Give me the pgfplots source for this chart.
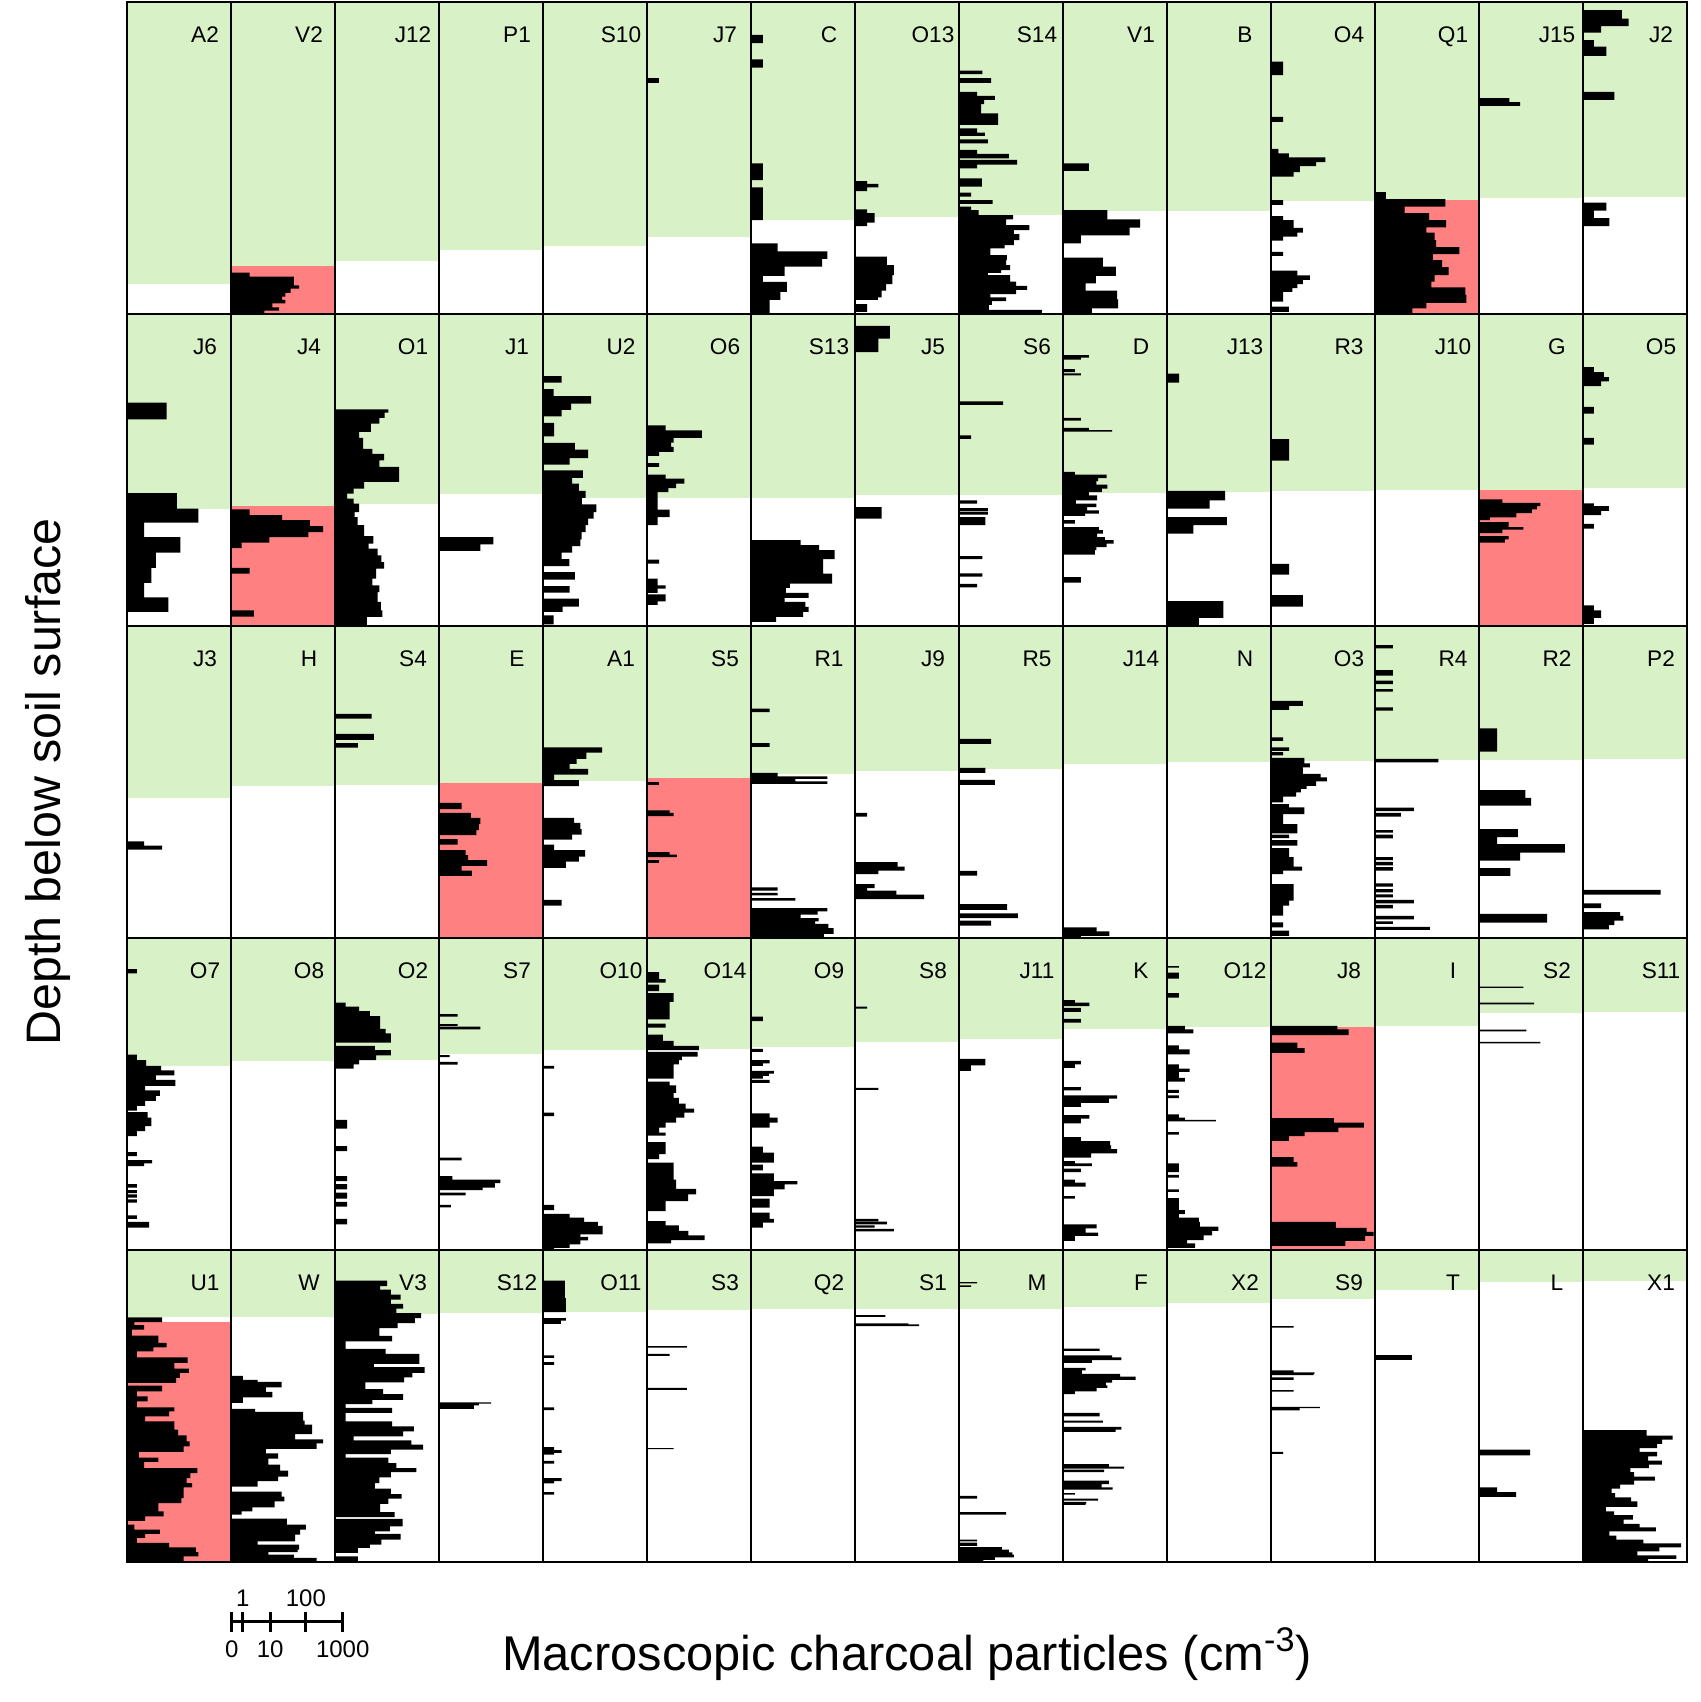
\documentclass[border=0pt]{standalone}
\usepackage{fontspec}
\setmainfont{Liberation Sans}
\usepackage{pgfplots}
\pgfplotsset{compat=1.18}
\definecolor{cgreen}{RGB}{217,241,198}
\definecolor{cred}{RGB}{255,128,128}
\pgfplotsset{panel/.style={anchor=north west, width=52pt, height=156pt, scale only axis,
  xmin=0, xmax=2.81, ymin=0, ymax=100, y dir=reverse, ticks=none, axis on top,
  axis line style={line width=0.75pt}, clip=true}}
\newcommand{\panel}[6]{%
 \begin{axis}[panel, at={(63.5pt+#1*52pt,-1pt-#2*156pt)}, name=pan]
  \addplot[xbar interval, fill=cgreen, draw=none] coordinates {(2.81,0) (0,#4)};
  \ifdim #5pt<99.9pt
  \addplot[xbar interval, fill=cred, draw=none] coordinates {(2.81,#5) (0,100)};
  \fi
  \addplot[xbar interval, fill=black, draw=none] coordinates {#6};
 \end{axis}
 \node[font=\fontsize{11.3}{13}\selectfont, anchor=base] at ([xshift=-13pt,yshift=-20.2pt]pan.north east) {#3};
}
\begin{document}
\begin{tikzpicture}
\path[use as bounding box] (0,0) rectangle (850.5pt,-851pt);
% Row 0
\panel{0}{0}{A2}{90.4}{100}{(0,0) (0,1)}
\panel{1}{0}{V2}{84.6}{84.6}{(0.50,86.7) (1.70,88.0) (1.84,90.8) (1.61,91.9) (1.47,93.2) (1.38,94.4) (1.47,95.5) (1.12,96.6) (1.30,97.9) (0.90,98.9) (0,99.8)}
\panel{2}{0}{J12}{83.0}{100}{(0,0) (0,1)}
\panel{3}{0}{P1}{79.5}{100}{(0,0) (0,1)}
\panel{4}{0}{S10}{78.2}{100}{(0,0) (0,1)}
\panel{5}{0}{J7}{75.3}{100}{(0.33,24.4) (0,25.9)}
\panel{6}{0}{C}{69.9}{100}{(0.32,10.5) (0,13.2) (0.32,18.4) (0,21.0) (0.32,51.7) (0,57.1) (0.32,59.4) (0,69.9) (0.72,77.4) (2.06,79.9) (1.92,82.3) (0.91,84.8) (0.32,87.8) (0.97,89.7) (0.79,92.9) (0.50,95.5) (0,99.8)}
\panel{7}{0}{O13}{68.9}{100}{(0.33,57.4) (0.63,58.3) (0.33,59.4) (0,60.6) (0.33,66.5) (0.53,67.7) (0.33,70.7) (0,71.8) (0.86,81.6) (1.05,84.3) (1.01,87.5) (0.84,90.4) (0.72,92.5) (0.62,94.7) (0,95.5) (0.33,96.8) (0,99.3)}
\panel{8}{0}{S14}{68.3}{100}{(0.63,22.0) (0,23.1) (0.87,24.4) (0,25.9) (0.49,28.8) (0.97,30.1) (0.68,31.4) (0.60,32.7) (1.06,35.7) (0,39.4) (0.49,40.5) (0.70,41.9) (0,42.9) (0.78,44.0) (0,45.3) (0.49,47.4) (1.35,48.7) (0,50.1) (1.57,50.6) (0.49,52.1) (0,53.3) (0.62,56.5) (0,59.2) (0.33,61.1) (0,62.4) (0.91,63.5) (0,64.7) (0.33,65.6) (0.53,66.7) (1.46,68.3) (1.27,69.7) (1.90,71.5) (1.48,73.1) (1.63,74.4) (1.48,76.3) (1.23,77.9) (0.85,79.0) (1.29,81.1) (1.27,82.7) (1.38,84.3) (1.14,85.9) (0.78,86.8) (1.38,87.5) (1.54,89.6) (1.84,91.0) (1.54,92.3) (0.85,93.6) (1.27,94.7) (0.89,95.9) (0.81,97.1) (2.24,98.7) (0,99.8)}
\panel{9}{0}{V1}{66.9}{100}{(0.70,51.7) (0,54.1) (1.20,66.7) (2.08,69.7) (1.80,72.3) (0.48,74.8) (0,77.4) (1.08,81.9) (1.43,84.8) (0.89,87.8) (0.61,90.2) (1.46,92.5) (1.49,95.3) (0.78,98.2) (0,99.8)}
\panel{10}{0}{B}{66.9}{100}{(0,0) (0,1)}
\panel{11}{0}{O4}{63.8}{100}{(0.33,19.1) (0,23.4) (0.33,36.8) (0,38.4) (0.20,47.1) (0.48,48.5) (1.47,49.8) (1.22,51.3) (0.78,52.6) (0.61,54.5) (0,56.0) (0.33,63.5) (0,65.0) (0.33,68.6) (0.61,69.9) (0.86,72.4) (0.71,73.9) (0.33,75.2) (0,76.5) (0.33,80.1) (0,81.4) (0.71,86.1) (1.05,87.6) (0.86,89.1) (0.71,90.4) (0.58,91.7) (0.33,92.9) (0,96.0) (0.48,97.6) (0,99.3)}
\panel{12}{0}{Q1}{63.5}{63.5}{(0.29,60.9) (1.90,63.2) (0.80,65.6) (1.46,67.7) (1.92,69.9) (1.39,72.2) (1.61,73.9) (1.65,76.3) (2.28,78.6) (1.56,80.8) (1.81,82.7) (1.99,85.0) (1.61,87.5) (1.52,89.6) (2.44,91.5) (2.47,93.9) (1.39,96.4) (1.01,98.2) (0,99.8)}
\panel{13}{0}{J15}{62.8}{100}{(0.82,30.8) (1.11,32.1) (0,33.3)}
\panel{14}{0}{J2}{62.5}{100}{(1.05,2.6) (1.23,5.3) (0.49,7.7) (0,9.8) (0.29,12.2) (0.63,14.3) (0,17.3) (0.85,28.8) (0,31.4) (0.63,64.3) (0.29,66.9) (0.71,69.3) (0,71.8)}
% Row 1
\panel{0}{1}{J6}{62.4}{100}{(1.07,28.4) (0,33.8) (1.35,57.4) (1.93,62.4) (0.46,66.9) (1.44,71.5) (0.78,76.5) (0.66,81.4) (0.46,86.2) (1.12,90.8) (0,95.5)}
\panel{1}{1}{J4}{61.5}{61.5}{(0.50,62.6) (1.38,64.5) (2.13,66.1) (2.49,68.0) (2.09,69.9) (1.04,71.5) (0.29,73.3) (0,75.0) (0.50,81.4) (0,83.2) (0.62,95.0) (0,97.0)}
\panel{2}{1}{O1}{60.8}{100}{(1.44,30.6) (1.34,31.6) (1.20,33.3) (0.97,35.1) (0.65,37.8) (0.76,39.7) (1.01,43.2) (1.33,44.8) (1.20,46.9) (1.73,49.0) (0.79,53.8) (0.50,56.0) (0.33,57.6) (0.50,59.2) (0.65,60.8) (0.53,63.5) (0.61,65.1) (0.79,67.7) (1.04,71.2) (0.91,73.6) (1.15,75.2) (1.25,77.4) (1.33,79.5) (1.11,81.6) (1.01,84.8) (1.20,87.0) (1.15,89.1) (1.24,92.3) (1.28,95.0) (0.86,97.1) (0,99.8)}
\panel{3}{1}{J1}{57.7}{100}{(1.47,71.5) (1.12,73.8) (0,75.9)}
\panel{4}{1}{U2}{59.1}{100}{(0.50,19.9) (0,22.0) (0.29,24.1) (1.30,26.3) (0.76,28.7) (0.50,30.7) (0,32.8) (0.30,34.9) (0,39.2) (0.86,41.3) (1.22,43.5) (0.72,46.2) (0,48.3) (1.08,50.1) (0.79,52.5) (0.97,54.4) (1.15,56.7) (1.05,58.9) (1.44,61.0) (1.37,63.5) (1.22,65.6) (1.15,67.7) (1.04,69.9) (1.01,72.2) (0.79,74.4) (0.50,76.5) (0.71,78.6) (0,80.8) (0.86,82.7) (0,85.1) (0.72,87.2) (0,89.3) (0.97,91.2) (0.53,93.8) (0,95.5) (0.29,96.6) (0,99.5)}
\panel{5}{1}{O6}{58.9}{100}{(0.50,35.7) (1.48,37.3) (0.72,39.7) (0.65,41.2) (0.72,42.6) (0.33,44.2) (0,45.5) (0.33,47.8) (0,49.0) (0.50,51.5) (1.01,52.8) (0.79,54.4) (0.58,55.8) (0.29,57.1) (0.61,62.7) (0.29,65.1) (0,67.7) (0.33,78.7) (0,80.0) (0.29,84.8) (0.50,87.0) (0.29,88.0) (0,89.4) (0.50,89.9) (0.29,92.1) (0,93.2)}
\panel{6}{1}{S13}{58.9}{100}{(1.34,72.5) (1.84,74.1) (2.26,75.7) (1.95,78.6) (2.19,83.2) (1.05,86.4) (0.94,87.8) (1.56,89.4) (0.91,91.0) (1.47,92.3) (1.56,93.9) (1.41,95.5) (0.68,97.1) (0,98.7)}
\panel{7}{1}{J5}{58.0}{100}{(0.94,3.8) (0.63,7.9) (0,12.2) (0.72,61.9) (0,65.6)}
\panel{8}{1}{S6}{58.0}{100}{(1.19,28.0) (0,29.1) (0.33,38.9) (0,40.0) (0.49,59.7) (0,60.8) (0.78,62.2) (0,63.1) (0.78,63.3) (0,64.3) (0.71,65.1) (0,67.7) (0.63,77.6) (0,78.6) (0.63,83.1) (0,84.2) (0.49,86.5) (0,87.6)}
\panel{9}{1}{D}{57.4}{100}{(0.70,13.2) (0.48,14.0) (0,14.6) (0.32,17.7) (0,18.6) (0.48,19.0) (0,19.7) (0.48,33.3) (0,34.2) (0.70,36.5) (1.33,37.2) (0,37.7) (0.32,50.6) (1.18,51.5) (0.95,52.6) (0.90,53.6) (1.20,54.7) (1.05,56.0) (0.70,57.1) (0.92,58.1) (0.35,59.7) (0.90,60.8) (0.65,61.9) (0.97,62.9) (0.60,64.0) (0,64.7) (0.32,66.1) (0,67.2) (0.97,68.3) (1.08,69.3) (0.92,70.4) (1.13,71.5) (1.37,72.5) (1.18,73.6) (0.90,74.7) (0.86,75.7) (0,77.1) (0.48,84.3) (0,86.1)}
\panel{10}{1}{J13}{57.1}{100}{(0.33,19.1) (0,22.0) (1.57,56.7) (1.15,59.7) (0,62.4) (1.62,65.1) (0.71,67.7) (0,70.4) (1.52,92.0) (0.86,97.4) (0,100)}
\panel{11}{1}{R3}{56.8}{100}{(0.49,40.1) (0,47.0) (0.49,80.1) (0,83.5) (0.86,90.1) (0,93.8)}
\panel{12}{1}{J10}{56.5}{100}{(0,0) (0,1)}
\panel{13}{1}{G}{56.5}{56.5}{(0.63,59.4) (1.66,60.5) (1.56,61.6) (1.43,62.6) (1.01,63.8) (0.29,65.2) (0,66.1) (0.80,66.7) (1.20,68.3) (0.63,69.1) (0,70.2) (0.80,71.2) (0.70,72.2) (0,73.3)}
\panel{14}{1}{O5}{55.7}{100}{(0.29,17.0) (0.56,18.6) (0.70,20.2) (0.49,21.6) (0,23.1) (0.29,29.8) (0,31.9) (0.29,39.7) (0,41.9) (0.29,60.7) (0.70,61.6) (0.49,63.1) (0,64.5) (0.29,67.3) (0,68.8) (0.29,93.4) (0.49,95.0) (0.29,97.4) (0,99.3)}
% Row 2
\panel{0}{2}{J3}{55.1}{100}{(0.46,69.0) (0.95,70.4) (0,71.7)}
\panel{1}{2}{H}{51.3}{100}{(0,0) (0,1)}
\panel{2}{2}{S4}{51.0}{100}{(0.99,28.2) (0,29.7) (1.05,34.6) (0,36.5) (0.62,37.5) (0,39.0)}
\panel{3}{2}{E}{50.3}{50.3}{(0.61,56.7) (0,58.7) (0.86,59.9) (1.12,61.5) (1.08,63.5) (1.01,65.4) (0,67.0) (0.50,68.3) (0,70.1) (0.72,71.8) (0.79,73.4) (1.30,75.0) (0.61,76.9) (0.89,78.4) (0,80.1)}
\panel{4}{2}{A1}{49.8}{100}{(1.60,38.9) (1.17,40.6) (0.91,42.6) (0.72,44.2) (1.22,45.8) (0.30,47.6) (0.97,49.4) (0,51.3) (0.84,61.5) (1.01,63.1) (1.04,65.1) (0.79,66.9) (0,68.5) (0.30,70.1) (1.14,71.8) (0.97,73.9) (0.62,75.5) (0,77.5) (0.50,87.8) (0,89.6)}
\panel{5}{2}{S5}{48.7}{48.7}{(0.32,50.0) (0,50.9) (0.61,59.1) (0.72,59.9) (0,60.9) (0.61,72.5) (0.81,73.3) (0,74.1) (0.32,75.0) (0,75.9)}
\panel{6}{2}{R1}{47.4}{100}{(0.50,26.5) (0,27.6) (0.50,37.5) (0,38.7) (0.72,47.1) (2.06,48.2) (1.20,49.0) (2.06,49.8) (0,50.6) (0.72,83.8) (0,84.8) (0.72,85.5) (0,86.3) (1.20,87.2) (0,88.0) (2.06,90.4) (1.80,91.5) (1.34,92.5) (1.83,93.6) (1.73,94.7) (2.09,95.5) (2.23,96.8) (2.23,97.6) (1.97,98.7) (0,99.8)}
\panel{7}{2}{J9}{46.4}{100}{(0.33,59.9) (0,61.1) (1.15,75.7) (1.34,77.1) (0.63,78.4) (0,79.5) (0.53,82.7) (0.33,84.0) (1.12,84.8) (1.87,86.1) (0,87.5)}
\panel{8}{2}{R5}{45.8}{100}{(0.87,36.2) (0,37.8) (0.71,45.5) (0,47.1) (0.97,49.3) (0,50.9) (0.49,78.5) (0,80.0) (1.30,89.1) (0,91.0) (1.59,92.1) (0,93.6) (0.87,94.4) (0,96.0)}
\panel{9}{2}{J14}{44.2}{100}{(0.91,96.6) (1.25,97.9) (0.48,99.3) (0,100)}
\panel{10}{2}{N}{43.5}{100}{(0,0) (0,1)}
\panel{11}{2}{O3}{43.2}{100}{(0.86,24.0) (0.49,25.6) (0,26.9) (0.33,35.7) (0,36.8) (0.49,38.9) (0,40.0) (0.33,40.4) (0,41.5) (0.90,42.3) (1.05,44.0) (0.86,45.3) (1.34,47.4) (1.51,48.5) (1.22,49.8) (0.96,51.2) (0.81,52.2) (0.68,53.3) (0.33,54.7) (0,56.5) (0.48,57.1) (0.90,58.1) (0.33,60.3) (0.71,63.5) (0,66.5) (0.49,66.9) (0,68.0) (0.71,68.6) (0,70.4) (0.49,71.2) (0.61,74.1) (0.84,77.1) (0.33,78.4) (0,79.5) (0.61,82.7) (0.49,88.0) (0.33,89.6) (0.33,91.2) (0,92.8) (0.33,95.0) (0,96.6) (0.49,97.6) (0,99.3)}
\panel{12}{2}{R4}{42.9}{100}{(0.48,6.1) (0,7.2) (0.48,14.1) (0,15.9) (0.48,17.5) (0,18.6) (0.48,20.2) (0,21.0) (0.48,26.1) (0,27.1) (1.71,42.6) (0,43.7) (1.05,58.2) (0,59.3) (0.70,59.9) (0,61.1) (0.48,65.4) (0,66.2) (0.48,66.9) (0,68.1) (0.48,74.1) (0,75.0) (0.48,75.6) (0,76.7) (0.48,77.3) (0,78.4) (0.48,82.5) (0,83.5) (0.48,84.3) (0,85.4) (0.48,86.0) (0,87.0) (1.05,87.8) (0,88.9) (0.48,89.4) (0,90.5) (1.05,92.9) (0,94.0) (0.48,94.7) (0,95.5) (1.48,96.4) (0,97.4)}
\panel{13}{2}{R2}{42.8}{100}{(0.49,32.8) (0,40.3) (1.25,52.6) (1.41,55.1) (0,57.6) (1.05,65.1) (0.49,67.7) (2.32,69.9) (1.11,72.6) (0,75.2) (0.85,77.6) (0,80.1) (1.84,92.3) (0,95.1)}
\panel{14}{2}{P2}{42.6}{100}{(2.10,84.6) (0,86.1) (0.49,88.9) (0,90.4) (1.00,91.7) (1.09,92.9) (0.85,94.4) (0.70,95.9) (0,97.2)}
% Row 3
\panel{0}{3}{O7}{41.0}{100}{(0.27,10.0) (0,11.3) (0.27,37.4) (0.52,39.1) (0.92,41.0) (1.28,42.4) (0.78,44.0) (1.31,45.5) (0.49,47.4) (0.89,48.8) (0.78,50.6) (0.49,52.2) (0.27,53.8) (0,55.3) (0.56,55.8) (0.66,57.6) (0.49,60.3) (0.27,61.9) (0,63.5) (0.27,68.6) (0,69.9) (0.68,71.2) (0.46,72.2) (0,73.1) (0.27,78.9) (0,80.0) (0.27,80.8) (0,81.8) (0.27,82.2) (0,83.2) (0.27,83.8) (0,84.8) (0.27,88.9) (0,90.0) (0.60,91.0) (0,92.8)}
\panel{1}{3}{O8}{39.5}{100}{(0,0) (0,1)}
\panel{2}{3}{O2}{39.1}{100}{(0.29,20.7) (0.65,22.0) (0.94,23.4) (1.22,25.0) (1.37,29.1) (1.51,30.6) (0,33.5) (1.08,34.6) (1.51,35.9) (1.11,37.6) (0.65,39.1) (0.50,40.5) (0,41.9) (0.33,58.3) (0,61.1) (0.33,66.7) (0,68.3) (0.33,76.3) (0,77.9) (0.33,78.9) (0,80.6) (0.33,81.6) (0,83.5) (0.33,84.6) (0,86.1) (0.33,90.0) (0,91.8)}
\panel{3}{3}{S7}{37.1}{100}{(0.50,24.4) (0,25.2) (0.50,27.6) (0,28.2) (1.12,28.4) (0,29.3) (0.29,37.5) (0,38.2) (0.50,39.7) (0,40.6) (0.61,70.4) (0,71.3) (0.36,76.3) (1.66,77.4) (1.51,78.6) (1.18,80.0) (0,80.8) (0.72,81.6) (0,82.5) (0.32,85.5) (0,86.3)}
\panel{4}{3}{O10}{35.9}{100}{(0.30,41.0) (0,41.9) (0.30,56.0) (0,57.1) (0.30,85.5) (0,87.2) (0.72,88.4) (1.11,89.6) (1.48,91.0) (1.61,92.3) (1.01,95.0) (1.22,95.8) (1.01,96.9) (0.72,98.2) (0.30,99.3) (0,100)}
\panel{5}{3}{O14}{35.7}{100}{(0.33,10.9) (0.50,13.2) (0,14.3) (0.33,14.9) (0,15.9) (0.33,16.0) (0,17.0) (0.72,17.7) (0.61,20.5) (0,26.1) (0.50,27.4) (0,28.7) (0.43,31.0) (0.72,33.0) (1.40,34.6) (0,35.9) (1.37,36.5) (0.94,38.0) (0.86,39.1) (0.72,40.5) (0,45.1) (0.61,46.0) (0.79,47.2) (0.72,49.6) (0.86,51.2) (1.04,53.1) (1.27,54.7) (1.01,56.0) (0.79,57.6) (0.50,59.2) (0.33,60.8) (0.50,62.4) (0,63.3) (0.50,65.4) (0.33,69.3) (0,70.9) (0.72,72.0) (0.79,77.4) (1.33,80.4) (1.11,82.2) (0.50,84.3) (0,87.5) (0.50,90.7) (0.86,92.1) (1.12,93.9) (1.56,95.3) (0.65,96.8) (0,97.9)}
\panel{6}{3}{O9}{34.9}{100}{(0.32,25.2) (0,26.6) (0.32,35.5) (0,36.5) (0.50,39.1) (0.32,40.2) (0,41.0) (0.62,42.6) (0.48,43.5) (0.32,44.2) (0,45.1) (0.50,45.5) (0,46.4) (0.50,56.2) (0.72,57.6) (0.50,59.2) (0,60.8) (0.32,66.9) (0.62,68.8) (0,72.0) (0.32,72.6) (0,74.5) (0.62,75.4) (1.25,77.9) (0.91,79.0) (0.62,80.6) (0,82.7) (0.50,83.5) (0,86.4) (0.50,88.0) (0.62,90.0) (0.32,91.2) (0,92.8)}
\panel{7}{3}{S8}{33.3}{100}{(0.33,22.0) (0,22.6) (0.63,48.0) (0,48.7) (0.63,90.0) (0,90.7) (0.86,90.9) (0,91.8) (0.53,92.1) (0,92.8) (1.05,93.2) (0,94.0)}
\panel{8}{3}{J11}{32.5}{100}{(0.71,38.7) (0.32,40.8) (0,42.6)}
\panel{9}{3}{K}{29.1}{100}{(0.32,19.9) (0.71,20.7) (0,21.8) (0.48,22.4) (0,23.7) (0.48,25.9) (0,27.1) (0.48,39.4) (0.32,40.5) (0,41.6) (0.48,47.8) (0,48.8) (1.46,50.4) (1.24,51.5) (0.48,52.8) (0,54.1) (0.71,56.8) (0.48,57.9) (0,59.4) (0.48,63.8) (1.27,65.1) (1.30,66.5) (1.46,67.7) (0.76,69.0) (0,70.4) (0.32,71.5) (0.78,72.2) (0,73.1) (0.48,73.9) (0,75.0) (0.32,77.4) (0.61,78.4) (0,79.7) (0.32,82.7) (0,83.5) (0.91,91.8) (0.61,93.1) (0.95,94.4) (0.32,95.5) (0,97.1)}
\panel{10}{3}{O12}{28.4}{100}{(0.32,9.0) (0,9.5) (0.32,11.1) (0,13.0) (0.32,17.7) (0,19.1) (0.48,28.2) (0.71,29.3) (0,30.6) (0.32,34.4) (0.61,35.7) (0,37.3) (0.32,40.5) (0.61,41.9) (0.32,42.9) (0.48,44.8) (0,46.0) (0.32,48.7) (0,49.6) (0.32,50.4) (0,51.3) (0.32,56.5) (0.48,57.6) (1.32,58.3) (0,58.8) (0.32,62.2) (0,63.0) (0.32,72.2) (0,75.0) (0.32,75.9) (0,76.8) (0.32,80.6) (0,81.4) (0.32,83.4) (0.48,87.2) (0.32,88.5) (0.86,89.6) (0.89,91.0) (1.39,92.5) (1.22,93.9) (0.99,95.3) (0.54,96.8) (0.76,97.9) (0,99.3)}
\panel{11}{3}{J8}{28.4}{28.4}{(1.79,28.2) (2.10,29.3) (0,31.1) (0.71,33.5) (0.91,35.3) (0,36.8) (1.70,57.7) (2.51,59.2) (1.82,60.8) (0.91,62.2) (0.48,63.5) (0,65.0) (0.61,70.2) (0.71,71.8) (0,73.3) (1.75,91.0) (2.58,92.9) (2.77,94.2) (2.54,95.5) (2.01,97.1) (0,98.7)}
\panel{12}{3}{I}{28.2}{100}{(0,0) (0,1)}
\panel{13}{3}{S2}{23.9}{100}{(1.20,15.6) (0,16.0) (1.49,20.7) (0,21.3) (1.28,29.4) (0,29.9) (1.66,33.3) (0,33.8)}
\panel{14}{3}{S11}{23.7}{100}{(0,0) (0,1)}
% Row 4
\panel{0}{4}{U1}{21.6}{23.1}{(0.95,21.6) (0.20,23.1) (0.46,24.1) (0.13,25.5) (0.85,27.4) (1.07,29.8) (0.71,31.2) (0.27,32.5) (1.64,34.4) (1.28,36.2) (1.67,38.0) (1.43,39.4) (1.33,41.0) (0,42.6) (0.95,43.5) (0.27,45.3) (0.56,46.9) (0.27,48.5) (1.28,50.4) (1.14,51.7) (0.49,53.3) (1.28,54.9) (1.38,57.6) (1.61,59.4) (1.69,61.3) (1.53,62.9) (0.32,64.7) (0.85,66.5) (0.46,67.9) (1.90,69.9) (1.71,71.5) (1.61,73.1) (1.76,74.7) (1.53,76.1) (1.53,77.9) (1.47,79.5) (0.85,81.1) (0.99,83.8) (0.49,85.4) (0,86.8) (0.20,88.0) (0.89,89.6) (0.49,91.0) (0.27,92.3) (1.14,93.9) (1.86,95.3) (1.93,96.8) (1.53,98.2) (0,99.8)}
\panel{1}{4}{W}{21.6}{100}{(0.32,40.3) (0.72,41.6) (1.37,42.3) (0.94,44.0) (1.12,45.5) (0.32,47.2) (0,49.0) (0.65,50.9) (1.95,51.9) (1.99,54.7) (2.19,56.0) (1.73,59.0) (2.49,60.7) (2.31,62.0) (0.94,63.7) (1.27,65.2) (1.01,66.9) (1.33,68.8) (1.54,70.7) (1.27,72.6) (0.72,74.1) (0,75.8) (1.37,77.4) (1.44,79.0) (1.18,80.6) (0.58,82.5) (0.29,83.8) (0,84.8) (1.51,86.1) (2.02,88.0) (1.87,89.6) (1.73,91.2) (0.72,93.4) (1.84,94.4) (1.80,96.0) (1.01,96.8) (1.70,97.6) (2.31,98.7) (0,99.8)}
\panel{2}{4}{V3}{20.5}{100}{(1.41,9.8) (1.22,11.6) (1.51,12.7) (1.77,14.3) (1.51,15.9) (1.84,17.3) (1.66,18.8) (2.33,20.2) (2.16,21.8) (1.69,23.4) (1.20,25.0) (1.54,27.5) (0.29,29.3) (1.37,31.7) (2.28,33.3) (1.05,36.5) (2.42,37.5) (2.09,39.4) (1.87,40.8) (0.82,42.4) (1.30,44.6) (1.84,46.2) (1.01,48.0) (0.29,49.4) (1.54,50.6) (0.29,52.2) (1.54,54.9) (2.13,56.5) (1.84,58.1) (0.50,59.7) (2.06,61.0) (2.38,62.4) (1.51,64.0) (0.29,65.4) (1.44,66.5) (1.66,68.3) (2.20,69.9) (1.51,71.2) (1.20,72.9) (1.08,74.7) (1.51,76.5) (1.80,78.2) (1.44,79.7) (1.22,81.4) (1.22,82.7) (1.61,84.0) (0,85.6) (1.83,86.2) (1.48,88.6) (1.08,90.2) (1.77,91.0) (1.25,92.8) (0.94,94.4) (0.62,95.5) (0,97.1) (0.62,98.2) (0,99.8)}
\panel{3}{4}{S12}{20.2}{100}{(1.41,48.8) (1.08,49.2) (0.94,49.8) (0,50.9)}
\panel{4}{4}{O11}{19.9}{100}{(0.59,9.8) (0.62,15.4) (0,19.9) (0.62,21.8) (0.48,22.6) (0,23.7) (0.30,33.8) (0,34.6) (0.30,35.9) (0,36.8) (0.30,50.4) (0,51.3) (0.30,63.2) (0.50,64.1) (0.30,65.0) (0,65.6) (0.30,67.6) (0,68.5) (0.50,73.1) (0.30,74.1) (0,74.8) (0.30,77.6) (0,78.4)}
\panel{5}{4}{S3}{19.1}{100}{(1.08,30.8) (0,31.3) (0.61,33.3) (0,33.9) (1.08,44.2) (0,44.8) (0.72,63.5) (0,63.8)}
\panel{6}{4}{Q2}{18.9}{100}{(0,0) (0,1)}
\panel{7}{4}{S1}{18.9}{100}{(0.82,20.9) (0,21.4) (1.44,23.5) (1.73,23.8) (0,24.4)}
\panel{8}{4}{M}{18.8}{100}{(0.49,10.3) (0,10.7) (0.33,11.3) (0,11.8) (0.49,78.8) (0,79.7) (1.27,84.0) (0,84.8) (0.49,92.8) (0,93.4) (0.49,93.8) (0,94.8) (1.16,95.2) (1.35,96.0) (1.44,96.9) (1.48,97.6) (0.97,98.5) (0.66,99.3) (0,100)}
\panel{9}{4}{F}{18.3}{100}{(0.99,31.6) (0,32.3) (1.33,33.8) (1.58,34.4) (0.78,35.3) (0,36.2) (0.61,37.8) (0.51,38.6) (1.54,39.7) (1.96,40.6) (1.33,41.6) (1.16,42.5) (1.20,43.4) (0.91,44.2) (0.32,45.3) (0,46.2) (0.99,52.2) (0,53.3) (1.08,54.7) (0,55.3) (1.58,56.7) (1.42,57.6) (0,58.3) (1.24,68.6) (1.65,69.4) (0,70.1) (1.11,70.4) (0,71.2) (1.24,73.9) (1.04,75.0) (1.34,76.1) (0,76.8) (0.32,77.9) (0,78.4) (0.95,79.7) (0,80.3) (0.63,80.7) (0.61,81.2) (0,81.7)}
\panel{10}{4}{X2}{17.0}{100}{(0,0) (0,1)}
\panel{11}{4}{S9}{15.7}{100}{(0.61,24.4) (0,24.9) (0.61,38.6) (1.18,39.2) (1.15,39.6) (0,40.1) (0.61,40.8) (0,41.6) (0.61,44.9) (0,45.4) (1.32,50.3) (0.77,50.7) (0,51.4) (0.33,64.7) (0,65.3)}
\panel{12}{4}{T}{12.7}{100}{(0.99,33.8) (0,35.1)}
\panel{13}{4}{L}{10.4}{100}{(1.38,64.0) (0,65.8) (0.49,76.1) (1.00,77.6) (0,79.1)}
\panel{14}{4}{X1}{9.8}{100}{(1.72,57.7) (2.42,59.5) (2.14,60.8) (2.00,62.1) (1.53,63.5) (2.00,64.7) (1.76,66.1) (2.13,67.5) (1.78,68.8) (1.28,69.9) (1.38,71.2) (1.94,72.6) (1.38,73.9) (1.00,75.2) (0.77,76.5) (0.87,77.9) (1.30,79.3) (1.47,80.6) (0.62,82.3) (0.84,83.8) (1.35,85.0) (1.10,86.4) (1.53,87.8) (1.97,88.9) (0.71,90.2) (0.90,91.5) (1.63,92.8) (2.65,94.0) (2.06,95.3) (1.47,96.6) (2.52,97.9) (1.76,99.0) (0,99.8)}
% scale bar
\begin{axis}[at={(115.85pt,-810.85pt)}, anchor=west, width=55.5pt, height=10pt, scale only axis,
  xmin=0, xmax=3.0, ymin=-1, ymax=1, hide axis, clip=false]
  \addplot[black, line width=1.6pt] coordinates {(0,0) (3.0,0)};
  \addplot[only marks, mark=|, mark size=5pt, mark options={line width=1.6pt, black}] coordinates {(0,0) (0.301,0) (1.041,0) (2.004,0) (3.0,0)};
  \node[anchor=base, yshift=7.5pt, font=\fontsize{12}{14}\selectfont] at (axis cs:0.301,0) {1};
  \node[anchor=base, yshift=7.5pt, font=\fontsize{12}{14}\selectfont] at (axis cs:2.004,0) {100};
  \node[anchor=base, yshift=-18pt, font=\fontsize{12}{14}\selectfont] at (axis cs:0,0) {0};
  \node[anchor=base, yshift=-18pt, font=\fontsize{12}{14}\selectfont] at (axis cs:1.041,0) {10};
  \node[anchor=base, yshift=-18pt, font=\fontsize{12}{14}\selectfont] at (axis cs:3.0,0) {1000};
\end{axis}
\node[rotate=90, anchor=base, font=\fontsize{24.2}{28}\selectfont] at (30.5pt,-391pt) {Depth below soil surface};
\node[anchor=base, font=\fontsize{24.4}{28}\selectfont] at (453.5pt,-835pt) {Macroscopic charcoal particles (cm\textsuperscript{-3})};
\end{tikzpicture}
\end{document}
